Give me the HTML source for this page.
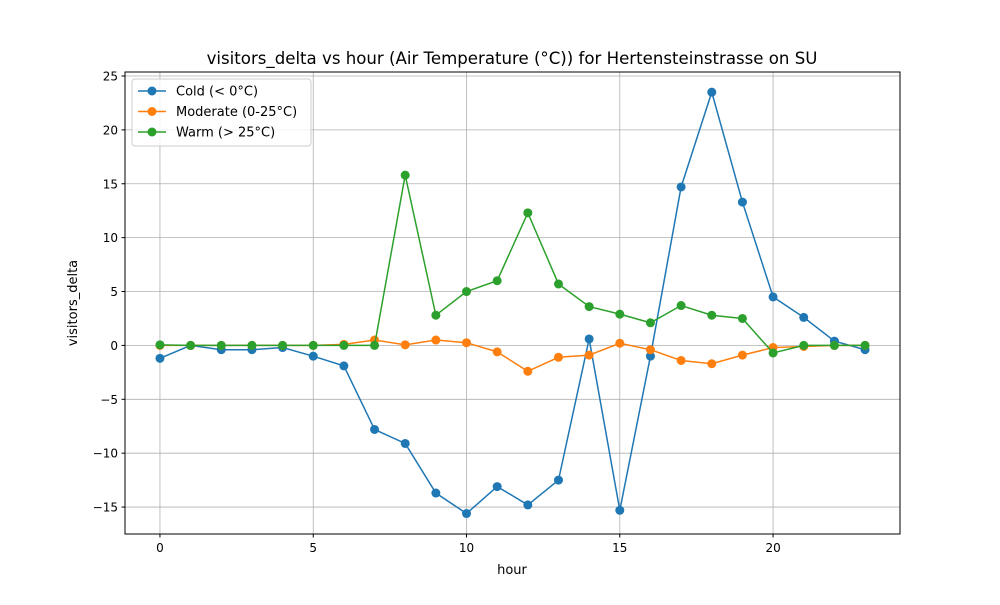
<!DOCTYPE html>
<html><head><meta charset="utf-8"><style>
body{margin:0;background:#fff;}
svg text{font-family:"DejaVu Sans","Liberation Sans",sans-serif;fill:#000;}
</style></head><body>
<svg id="chart" width="1000" height="600" xmlns="http://www.w3.org/2000/svg">
<rect width="1000" height="600" fill="#fff"/>
<text x="512" y="64" font-size="16.6" text-anchor="middle">visitors_delta vs hour (Air Temperature (°C)) for Hertensteinstrasse on SU</text>
<g id="grid"></g>
<g id="series"></g>
<rect x="125" y="72" width="775" height="462" fill="none" stroke="#000" stroke-width="1"/>
<g id="ticks"></g>
<text x="512" y="574" font-size="13" text-anchor="middle">hour</text>
<text transform="translate(77,303) rotate(-90)" font-size="13" text-anchor="middle">visitors_delta</text>
<g id="legend">
<rect x="132" y="79" width="179" height="67" rx="3" fill="#fff" fill-opacity="0.8" stroke="#ccc"/>
</g>
</svg>
<script>
const hours=[0,1,2,3,4,5,6,7,8,9,10,11,12,13,14,15,16,17,18,19,20,21,22,23];
const coldValues=[-1.2,0,-0.4,-0.4,-0.2,-1.0,-1.9,-7.8,-9.1,-13.7,-15.6,-13.1,-14.8,-12.5,0.6,-15.3,-1.0,14.7,23.5,13.3,4.5,2.6,0.4,-0.4];
const moderateValues=[0,0,0,0,0,0,0.1,0.5,0.05,0.5,0.25,-0.6,-2.4,-1.1,-0.9,0.2,-0.4,-1.4,-1.7,-0.9,-0.2,-0.1,0,0];
const warmValues=[0.05,0,0,0,0,0,0,0,15.8,2.8,5.0,6.0,12.3,5.7,3.6,2.9,2.1,3.7,2.8,2.5,-0.7,0,0,0];
const seriesNames=["Cold (< 0°C)","Moderate (0-25°C)","Warm (> 25°C)"];
const xTicks=[0,5,10,15,20];
const yTicks=[-15,-10,-5,0,5,10,15,20,25];
const NS="http://www.w3.org/2000/svg";
const L=125,R=900,T=72,B=534,xMin=-1.14,xMax=24.14,yMin=-17.5,yMax=25.37;
const xs=v=>L+(v-xMin)/(xMax-xMin)*(R-L);
const ys=v=>B-(v-yMin)/(yMax-yMin)*(B-T);
function mk(tag,attrs,parent){const e=document.createElementNS(NS,tag);for(const k in attrs)e.setAttribute(k,attrs[k]);parent.appendChild(e);return e;}
const grid=document.getElementById('grid'),ticks=document.getElementById('ticks');
xTicks.forEach(t=>{const x=xs(t);
const g=mk('line',{x1:x,x2:x,y1:T,y2:B,stroke:'#b0b0b0','stroke-width':0.8},grid);


mk('line',{x1:x,x2:x,y1:B,y2:B+3.5,stroke:'#000'},ticks);
const tx=mk('text',{x:x,y:B+18,'font-size':12,'text-anchor':'middle'},ticks);tx.textContent=t;

});
yTicks.forEach(t=>{const y=ys(t);
const g=mk('line',{x1:L,x2:R,y1:y,y2:y,stroke:'#b0b0b0','stroke-width':0.8},grid);


mk('line',{x1:L-3.5,x2:L,y1:y,y2:y,stroke:'#000'},ticks);
const tx=mk('text',{x:L-7,y:y+4.5,'font-size':12,'text-anchor':'end'},ticks);tx.textContent=t<0?'\u2212'+(-t):t;

});
const colors=['#1f77b4','#ff7f0e','#2ca02c'];
const data=[coldValues,moderateValues,warmValues];
const sg=document.getElementById('series'),lg=document.getElementById('legend');
data.forEach((vals,i)=>{
const g=mk('g',{},sg);


mk('polyline',{points:vals.map((v,j)=>xs(hours[j])+','+ys(v)).join(' '),fill:'none',stroke:colors[i],'stroke-width':1.5},g);
vals.forEach((v,j)=>{const c=mk('circle',{cx:xs(hours[j]),cy:ys(v),r:4.5,fill:colors[i]},g);

});
const ly=91+i*20.5;
const le=mk('g',{},lg);


mk('line',{x1:138,x2:166,y1:ly,y2:ly,stroke:colors[i],'stroke-width':1.5},le);
mk('circle',{cx:152,cy:ly,r:4.5,fill:colors[i]},le);
const t=mk('text',{x:176,y:ly+4.5,'font-size':13},le);t.textContent=seriesNames[i];
});
</script>
</body></html>
